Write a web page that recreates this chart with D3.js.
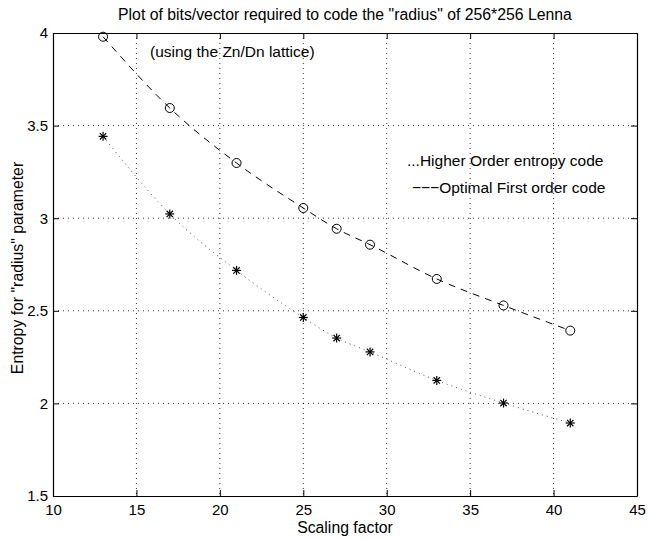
<!DOCTYPE html>
<html>
<head>
  <title>Bits/vector for radius</title>
  <style>
    body { margin: 0; padding: 0; background: #fff; font-family: "Liberation Sans", Arial, sans-serif; }
    .grid line { stroke: #000; stroke-dasharray: 1,4; stroke-width: 0.8; }
    text { fill: #000; }
  </style>
</head>
<body>
  <div id="chart"></div>
  <script src="https://d3js.org/d3.v7.min.js"></script>
  <script>
    // scaling factors used for the experiment
    const scaling = [13, 17, 21, 25, 27, 29, 33, 37, 41];
    // optimal first order code (dashed, circles)
    const optimalFirst = [3.98, 3.595, 3.298, 3.055, 2.943, 2.857, 2.672, 2.529, 2.393];
    // higher order entropy code (dotted, asterisks)
    const higherOrder = [3.442, 3.023, 2.718, 2.464, 2.353, 2.278, 2.124, 2.002, 1.894];

    const xTicks = [10, 15, 20, 25, 30, 35, 40, 45];
    const yTicks = [1.5, 2, 2.5, 3, 3.5, 4];

    const W = 649, H = 539;
    const margin = { top: 33, right: 12, bottom: 43, left: 53 };
    const width = W - margin.left - margin.right;
    const height = H - margin.top - margin.bottom;

    const svg = d3.select("#chart").append("svg")
      .attr("width", W).attr("height", H);
    const g = svg.append("g").attr("transform", `translate(${margin.left},${margin.top})`);

    const x = d3.scaleLinear().domain([10, 45]).range([0, width]);
    const y = d3.scaleLinear().domain([1.5, 4]).range([height, 0]);

    // dotted grid, only inner ticks
    const grid = g.append("g").attr("class", "grid");
    grid.selectAll(".gx").data(xTicks.slice(1, -1)).enter().append("line")
      .attr("x1", d => x(d)).attr("x2", d => x(d)).attr("y1", 0).attr("y2", height);
    grid.selectAll(".gy").data(yTicks.slice(1, -1)).enter().append("line")
      .attr("y1", d => y(d)).attr("y2", d => y(d)).attr("x1", 0).attr("x2", width);

    // axes with inward ticks
    const fmt = d => String(d);
    g.append("g").attr("transform", `translate(0,${height})`)
      .call(d3.axisBottom(x).tickValues(xTicks).tickFormat(fmt).tickSizeInner(-6).tickSizeOuter(0).tickPadding(8));
    g.append("g")
      .call(d3.axisTop(x).tickValues(xTicks).tickFormat("").tickSizeInner(-6).tickSizeOuter(0));
    g.append("g")
      .call(d3.axisLeft(y).tickValues(yTicks).tickFormat(fmt).tickSizeInner(-6).tickSizeOuter(0).tickPadding(5));
    g.append("g").attr("transform", `translate(${width},0)`)
      .call(d3.axisRight(y).tickValues(yTicks).tickFormat("").tickSizeInner(-6).tickSizeOuter(0));

    g.selectAll(".domain").attr("stroke", "#000").attr("stroke-width", 1.2);
    g.selectAll(".tick line").attr("stroke", "#000");
    g.selectAll(".tick text").attr("font-size", 15).attr("font-family", "Liberation Sans, Arial, sans-serif");

    const line = d3.line().x(d => x(d[0])).y(d => y(d[1])).curve(d3.curveMonotoneX);
    const optPts = scaling.map((s, i) => [s, optimalFirst[i]]);
    const higPts = scaling.map((s, i) => [s, higherOrder[i]]);

    g.append("path").datum(optPts).attr("d", line)
      .attr("fill", "none").attr("stroke", "#000").attr("stroke-width", 1)
      .attr("stroke-dasharray", "7,6");
    g.append("path").datum(higPts).attr("d", line)
      .attr("fill", "none").attr("stroke", "#555").attr("stroke-width", 1)
      .attr("stroke-dasharray", "1,4");

    // circles
    g.selectAll(".circ").data(optPts).enter().append("circle")
      .attr("cx", d => x(d[0])).attr("cy", d => y(d[1])).attr("r", 4.5)
      .attr("fill", "none").attr("stroke", "#000").attr("stroke-width", 1);

    // asterisks
    const star = g.selectAll(".star").data(higPts).enter().append("g")
      .attr("transform", d => `translate(${x(d[0])},${y(d[1])})`);
    [0, 45, 90, 135].forEach(a => {
      star.append("line").attr("x1", -4.5).attr("x2", 4.5).attr("y1", 0).attr("y2", 0)
        .attr("transform", `rotate(${a})`).attr("stroke", "#000").attr("stroke-width", 1.2);
    });

    // texts
    svg.append("text").attr("x", margin.left + width / 2).attr("y", 20)
      .attr("text-anchor", "middle").attr("font-size", 15.8)
      .text('Plot of bits/vector required to code the "radius" of 256*256 Lenna');
    svg.append("text").attr("x", margin.left + width / 2).attr("y", 533)
      .attr("text-anchor", "middle").attr("font-size", 15.8).text("Scaling factor");
    svg.append("text").attr("transform", "translate(23,268) rotate(-90)")
      .attr("text-anchor", "middle").attr("font-size", 15.8)
      .text('Entropy for "radius" parameter');
    svg.append("text").attr("x", 150).attr("y", 57).attr("font-size", 15.5)
      .text("(using the Zn/Dn lattice)");
    svg.append("text").attr("x", 407).attr("y", 166).attr("font-size", 15.5)
      .text("...Higher Order entropy code");
    svg.append("text").attr("x", 412).attr("y", 193).attr("font-size", 15.5)
      .text("\u2212\u2212\u2212Optimal First order code");
  </script>
</body>
</html>
